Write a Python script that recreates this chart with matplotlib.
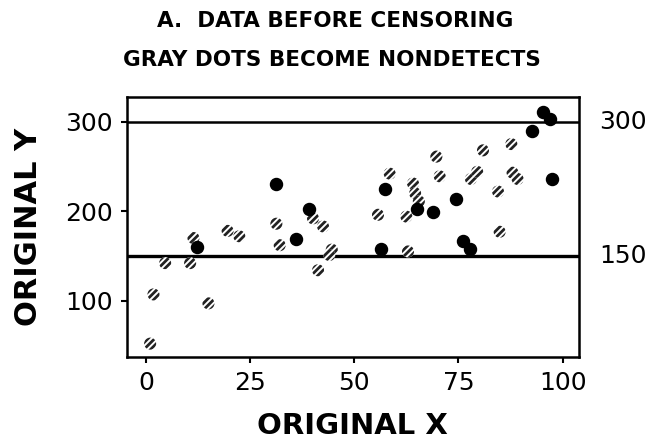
import matplotlib
matplotlib.use("Agg")
import matplotlib.pyplot as plt
import matplotlib.transforms as mtransforms

# black dots: stay detected
x_black = [31.3, 39.1, 36.0, 12.2, 95.3, 96.9, 92.7, 97.5, 57.3, 65.1,
           68.9, 74.5, 56.3, 76.1, 77.7]
y_black = [230, 203, 169, 160, 311, 303, 290, 236, 225, 203,
           199, 214, 158, 167, 158]

# gray dots: become nondetects
x_gray = [11.4, 4.6, 10.6, 1.8, 15.0, 1.0, 19.6, 22.4, 31.3, 32.1,
          40.1, 42.5, 44.6, 44.0, 41.3, 58.5, 55.7, 62.5, 62.9, 64.1,
          64.6, 65.5, 69.7, 70.5, 78.0, 79.5, 80.9, 84.5, 87.7, 88.0,
          89.2, 84.9]
y_gray = [170, 142, 142, 107, 97, 52, 178, 172, 186, 162,
          192, 183, 157, 151, 134, 242, 196, 194, 155, 231,
          220, 211, 261, 239, 236, 244, 268, 222, 275, 243,
          236, 177]

line_levels = [300, 150]
x_ticks = [0, 25, 50, 75, 100]
y_ticks = [100, 200, 300]

fig = plt.figure(figsize=(6.57, 4.43), dpi=100)
ax = fig.add_axes([0.193, 0.194, 0.688, 0.587])

for lev, lw in zip(line_levels, [1.8, 2.4]):
    ax.axhline(lev, color="black", lw=lw, zorder=1)

plt.rcParams["hatch.linewidth"] = 2.0
ax.scatter(x_gray, y_gray, s=75, marker="o", facecolor="white",
           edgecolor="#222222", linewidth=0, hatch="/////", zorder=2)
ax.scatter(x_black, y_black, s=75, marker="o", color="black", zorder=3)

ax.set_xlim(-4.6, 103.9)
ax.set_ylim(37, 327.6)
ax.set_xticks(x_ticks)
ax.set_yticks(y_ticks)
ax.tick_params(labelsize=18, length=4, width=1.5, pad=6)
for s in ax.spines.values():
    s.set_linewidth(1.8)

ax.set_xlabel("ORIGINAL X", fontsize=21, fontweight="bold", labelpad=12)
ax.set_ylabel("ORIGINAL Y", fontsize=22, fontweight="bold", labelpad=16)

# labels for the horizontal lines on the right side
trans = mtransforms.blended_transform_factory(ax.transAxes, ax.transData)
for lev in line_levels:
    ax.text(1.045, lev, str(lev), transform=trans, fontsize=18,
            va="center", ha="left")

fig.text(0.51, 0.952, "A.  DATA BEFORE CENSORING", ha="center", va="center",
         fontsize=15.5, fontweight="bold")
fig.text(0.505, 0.865, "GRAY DOTS BECOME NONDETECTS", ha="center", va="center",
         fontsize=15.5, fontweight="bold")

fig.savefig("out.png", dpi=100)
